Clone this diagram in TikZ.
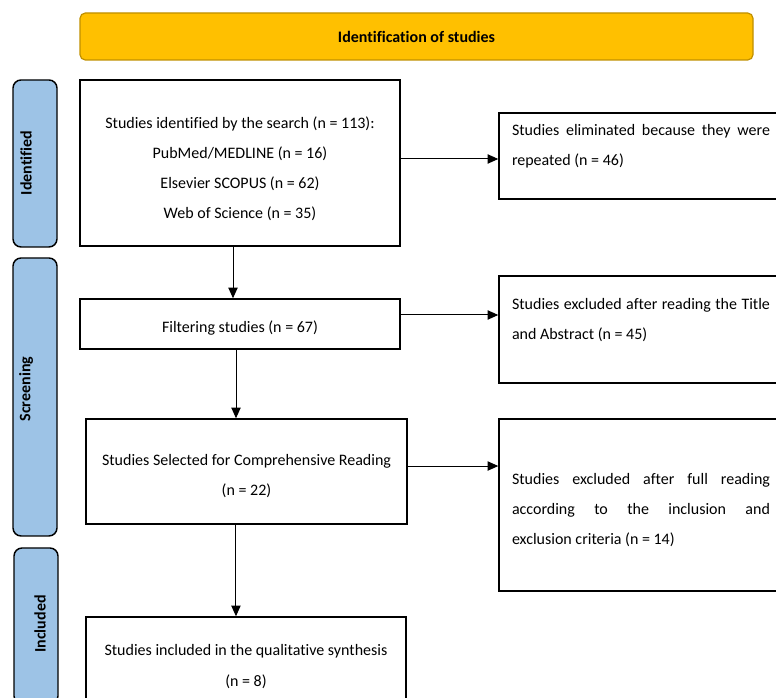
\documentclass[tikz,border=0pt]{standalone}
\usepackage{fontspec}
\setmainfont[Ligatures=CommonOff]{Carlito}
\usetikzlibrary{arrows.meta}
\definecolor{gold}{HTML}{FFC000}
\definecolor{goldline}{HTML}{C09000}
\definecolor{phase}{HTML}{9DC3E6}
\hyphenpenalty=10000
\exhyphenpenalty=10000
\begin{document}
\begin{tikzpicture}[x=0.75pt,y=-0.75pt,
  every node/.style={font=\fontsize{12}{22.5}\selectfont},
  box/.style={draw=black, line width=1.1pt, inner sep=0pt},
  txt/.style={inner sep=0pt, align=center},
  jtxt/.style={inner sep=0pt, align=justify, text width=193.5pt},
  banner/.style={draw=goldline, fill=gold, line width=0.9pt, rounded corners=4pt, inner sep=0pt, font=\fontsize{12}{14}\selectfont\bfseries},
  phasebar/.style={draw=black, fill=phase, line width=1.1pt, rounded corners=6pt, inner sep=0pt},
  phaselabel/.style={rotate=90, inner sep=0pt, font=\fontsize{12}{14}\selectfont\bfseries},
  arr/.style={draw=black, line width=0.75pt, -{Triangle[length=8pt,width=7pt]}}]
\useasboundingbox (0,0) rectangle (776,698);
\clip (0,0) rectangle (776,698);

% banner
\node[banner, minimum width=504.75pt, minimum height=35.25pt] (ban) at (416.5,36.5) {Identification of studies};

% phase bars
\node[phasebar, minimum width=33pt, minimum height=125.25pt] (pid) at (35,163.5) {};
\node[phaselabel] (lid) at (26,163) {Identified};
\node[phasebar, minimum width=33pt, minimum height=208.5pt] (psc) at (35,397) {};
\node[phaselabel] (lsc) at (26,389) {Screening};
\node[phasebar, minimum width=33pt, minimum height=117pt] (pin) at (36,626) {};
\node[phaselabel] (lin) at (40,624) {Included};

% main boxes
\node[box, minimum width=240pt, minimum height=124.5pt] (b1) at (240,163) {};
\node[txt, yshift=-4.1pt] (t1) at (b1.center) {Studies identified by the search (n = 113):\\PubMed/MEDLINE (n = 16)\\Elsevier SCOPUS (n = 62)\\Web of Science (n = 35)};
\node[box, minimum width=240pt, minimum height=37.5pt] (b2) at (240,324) {};
\node[txt, yshift=-3pt] (t2) at (b2.center) {Filtering studies (n = 67)};
\node[box, minimum width=240.75pt, minimum height=78.75pt] (b3) at (246.5,471.5) {};
\node[txt, yshift=-3.75pt] (t3) at (b3.center) {Studies Selected for Comprehensive Reading\\(n = 22)};
\node[box, minimum width=240pt, minimum height=65.25pt] (b4) at (246,660.5) {};
\node[txt, yshift=-4.5pt] (t4) at (b4.center) {Studies included in the qualitative synthesis\\[1.2pt](n = 8)};

% side boxes
\node[box, minimum width=213pt, minimum height=64.5pt] (r1) at (641,156) {};
\node[jtxt, yshift=-6pt] (s1) at (r1.center) {Studies eliminated because they were\linebreak repeated (n = 46)\\\strut};
\node[box, minimum width=213pt, minimum height=80.25pt] (r2) at (641,329.5) {};
\node[jtxt, yshift=-6.75pt] (s2) at (r2.center) {Studies excluded after reading the Title\linebreak and Abstract (n = 45)\\\strut};
\node[box, minimum width=213pt, minimum height=129pt] (r3) at (641,505) {};
\node[jtxt, yshift=-3.75pt] (s3) at (r3.center) {Studies excluded after full reading\linebreak according to the inclusion and\linebreak exclusion criteria (n = 14)};

% vertical arrows
\draw[arr] ([xshift=-5.25pt]b1.south) -- ([xshift=-5.25pt]b1.south |- b2.north);
\draw[arr] ([xshift=-3pt]b2.south) -- ([xshift=-3pt]b2.south |- b3.north);
\draw[arr] ([xshift=-7.9pt]b3.south) -- ([xshift=-7.9pt]b3.south |- b4.north);

% horizontal arrows
\draw[arr] ([yshift=3pt]b1.east) -- ([yshift=3pt]b1.east -| r1.west);
\draw[arr] ([yshift=6.75pt]b2.east) -- ([yshift=6.75pt]b2.east -| r2.west);
\draw[arr] ([yshift=4.1pt]b3.east) -- ([yshift=4.1pt]b3.east -| r3.west);
\end{tikzpicture}
\end{document}
